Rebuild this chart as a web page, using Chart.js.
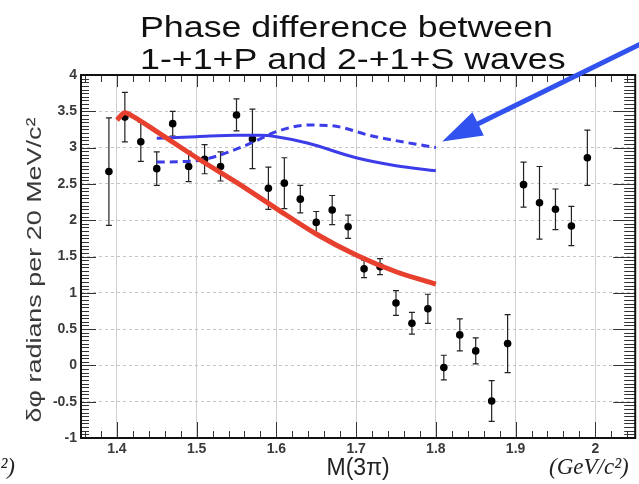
<!DOCTYPE html>
<html>
<head>
<meta charset="utf-8">
<script src="https://cdn.jsdelivr.net/npm/chart.js@4.4.1/dist/chart.umd.min.js"></script>
<style>
  html, body { margin: 0; padding: 0; background: #fff; }
  canvas { display: block; }
</style>
</head>
<body>
<canvas id="c" width="639" height="484"></canvas>
<script>
// Measured phase difference, one point per 20 MeV bin
const mass = [1.39, 1.41, 1.43, 1.45, 1.47, 1.49, 1.51, 1.53, 1.55, 1.57,
              1.59, 1.61, 1.63, 1.65, 1.67, 1.69, 1.71, 1.73, 1.75, 1.77,
              1.79, 1.81, 1.83, 1.85, 1.87, 1.89, 1.91, 1.93, 1.95, 1.97, 1.99];
const phase = [2.67, 3.42, 3.08, 2.71, 3.33, 2.74, 2.84, 2.74, 3.45, 3.12,
               2.44, 2.51, 2.29, 1.97, 2.14, 1.91, 1.33, 1.36, 0.86, 0.58,
               0.78, -0.03, 0.42, 0.20, -0.49, 0.30, 2.49, 2.24, 2.15, 1.92, 2.86];
const phaseErr = [0.74, 0.34, 0.27, 0.23, 0.17, 0.21, 0.20, 0.20, 0.22, 0.41,
                  0.29, 0.35, 0.19, 0.15, 0.20, 0.16, 0.12, 0.11, 0.17, 0.15,
                  0.20, 0.17, 0.22, 0.18, 0.28, 0.40, 0.31, 0.50, 0.28, 0.27, 0.38];

// Model curves
const redMass  = [1.40, 1.41, 1.42, 1.45, 1.50, 1.55, 1.60, 1.65, 1.70, 1.75, 1.80];
const redPhase = [3.38, 3.48, 3.43, 3.22, 2.86, 2.52, 2.16, 1.81, 1.52, 1.29, 1.12];
const blueMass  = [1.45, 1.50, 1.55, 1.58, 1.60, 1.64, 1.70, 1.75, 1.80];
const bluePhase = [3.13, 3.15, 3.17, 3.17, 3.15, 3.06, 2.86, 2.75, 2.68];
const dashMass  = [1.45, 1.50, 1.53, 1.57, 1.60, 1.64, 1.67, 1.72, 1.80];
const dashPhase = [2.80, 2.82, 2.90, 3.07, 3.22, 3.31, 3.30, 3.16, 3.00];

// Axes
const xTickValues = [1.4, 1.5, 1.6, 1.7, 1.8, 1.9, 2.0];
const yTickValues = [-1, -0.5, 0, 0.5, 1, 1.5, 2, 2.5, 3, 3.5, 4];
const xRange = [1.355, 2.05];
const yRange = [-1, 4];

// Text
const titleLines = ['Phase difference between', '1-+1+P and 2-+1+S waves'];
const yTitle = 'δφ radians per 20 MeV/c²';
const xTitle = 'M(3π)';
const unitLabel = '(GeV/c²)';

// Arrow pointing at the end of the curves (data coordinates)
const arrowTip = { x: 1.808, y: 3.085 };
const arrowTail = { x: 2.10, y: 4.66 };

const SANS = '"Liberation Sans", Arial, sans-serif';
const SERIF = '"Liberation Serif", "DejaVu Serif", serif';

const pts = (xs, ys) => xs.map((x, i) => ({ x, y: ys[i] }));
const fmt = v => String(+Number(v).toFixed(2));

const background = {
  id: 'background',
  beforeDraw(chart) {
    const c = chart.ctx;
    c.save();
    c.fillStyle = '#fff';
    c.fillRect(0, 0, chart.width, chart.height);
    c.restore();
  }
};

const errorBars = {
  id: 'errorBars',
  beforeDatasetDraw(chart, args) {
    if (args.index !== 3) return;
    const c = chart.ctx, xs = chart.scales.x, ys = chart.scales.y;
    c.save();
    c.strokeStyle = '#222';
    c.lineWidth = 1.2;
    mass.forEach((m, i) => {
      const px = xs.getPixelForValue(m);
      const top = ys.getPixelForValue(phase[i] + phaseErr[i]);
      const bot = ys.getPixelForValue(phase[i] - phaseErr[i]);
      c.beginPath();
      c.moveTo(px, top); c.lineTo(px, bot);
      c.moveTo(px - 3, top); c.lineTo(px + 3, top);
      c.moveTo(px - 3, bot); c.lineTo(px + 3, bot);
      c.stroke();
    });
    c.restore();
  }
};

const frame = {
  id: 'frame',
  afterDraw(chart) {
    const c = chart.ctx, a = chart.chartArea;
    const xs = chart.scales.x, ys = chart.scales.y;
    c.save();
    c.strokeStyle = '#333';
    c.lineWidth = 1;
    c.beginPath();
    // x ticks every 0.02, longer at each 0.1 (bottom and top edges)
    for (let i = 68; i <= 102; i++) {
      const px = Math.round(xs.getPixelForValue(i * 0.02)) + 0.5;
      const major = i % 5 === 0;
      const lb = major ? 16 : 7, lt = major ? 12 : 7;
      c.moveTo(px, a.bottom); c.lineTo(px, a.bottom - lb);
      c.moveTo(px, a.top); c.lineTo(px, a.top + lt);
    }
    // y ticks every 0.05, longer at each 0.5 (left and right edges)
    for (let i = 0; i <= 100; i++) {
      const py = Math.round(ys.getPixelForValue(-1 + i * 0.05)) + 0.5;
      const major = i % 10 === 0;
      const ll = major ? 15 : 8, lr = major ? 22 : 11;
      c.moveTo(a.left, py); c.lineTo(a.left + ll, py);
      c.moveTo(a.right, py); c.lineTo(a.right - lr, py);
    }
    c.stroke();
    c.strokeStyle = '#111';
    c.lineWidth = 2;
    c.strokeRect(a.left, a.top, a.right - a.left, a.bottom - a.top);
    c.restore();
  }
};

const arrow = {
  id: 'arrow',
  afterDraw(chart) {
    const c = chart.ctx, xs = chart.scales.x, ys = chart.scales.y;
    const tx = xs.getPixelForValue(arrowTip.x), ty = ys.getPixelForValue(arrowTip.y);
    const sx = xs.getPixelForValue(arrowTail.x), sy = ys.getPixelForValue(arrowTail.y);
    const ang = Math.atan2(ty - sy, tx - sx);
    const headLen = 40, headHalf = 13;
    const bx = tx - headLen * Math.cos(ang), by = ty - headLen * Math.sin(ang);
    c.save();
    c.strokeStyle = '#3152ee';
    c.fillStyle = '#3152ee';
    c.lineWidth = 5;
    c.beginPath();
    c.moveTo(sx, sy); c.lineTo(bx + 4 * Math.cos(ang), by + 4 * Math.sin(ang));
    c.stroke();
    c.beginPath();
    c.moveTo(tx, ty);
    c.lineTo(bx + headHalf * Math.sin(ang), by - headHalf * Math.cos(ang));
    c.lineTo(bx - headHalf * Math.sin(ang), by + headHalf * Math.cos(ang));
    c.closePath();
    c.fill();
    c.restore();
  }
};

const texts = {
  id: 'texts',
  afterDraw(chart) {
    const c = chart.ctx;
    c.save();
    c.fillStyle = '#111';
    // two-line title, slightly widened
    c.font = '29px ' + SANS;
    c.textAlign = 'left';
    c.textBaseline = 'alphabetic';
    const stretch = 413 / c.measureText(titleLines[0]).width;
    [37, 69].forEach((base, i) => {
      c.save();
      c.translate(140, base);
      c.scale(stretch, 1);
      c.fillText(titleLines[i], 0, 0);
      c.restore();
    });
    // vertical axis title
    c.fillStyle = '#3a3a3a';
    c.font = '20px ' + SANS;
    c.textAlign = 'center';
    c.textBaseline = 'middle';
    const ys = 305 / c.measureText(yTitle).width;
    c.save();
    c.translate(35, 270);
    c.rotate(-Math.PI / 2);
    c.scale(ys, 1);
    c.fillText(yTitle, 0, 0);
    c.restore();
    // unit labels at the bottom corners
    c.fillStyle = '#222';
    c.font = 'italic 23px ' + SERIF;
    c.textBaseline = 'middle';
    c.textAlign = 'left';
    c.fillText(unitLabel, 549, 468);
    c.textAlign = 'right';
    c.fillText(unitLabel, 15, 468);
    c.restore();
  }
};

new Chart(document.getElementById('c'), {
  type: 'scatter',
  data: {
    datasets: [
      { data: pts(redMass, redPhase), showLine: true, borderColor: '#e8402f', borderWidth: 5,
        pointRadius: 0, cubicInterpolationMode: 'monotone', fill: false },
      { data: pts(blueMass, bluePhase), showLine: true, borderColor: '#3c3ce8', borderWidth: 3,
        pointRadius: 0, cubicInterpolationMode: 'monotone', fill: false },
      { data: pts(dashMass, dashPhase), showLine: true, borderColor: '#3c3ce8', borderWidth: 3,
        borderDash: [8, 5], pointRadius: 0, cubicInterpolationMode: 'monotone', fill: false },
      { data: pts(mass, phase), showLine: false, pointRadius: 3.8, pointHoverRadius: 3.8,
        backgroundColor: '#000', borderColor: '#000', borderWidth: 0 }
    ]
  },
  options: {
    responsive: false,
    animation: false,
    events: [],
    layout: { padding: { top: 75, right: 2, left: 0, bottom: 0 } },
    plugins: { legend: { display: false }, tooltip: { enabled: false } },
    scales: {
      x: {
        type: 'linear', min: xRange[0], max: xRange[1],
        afterBuildTicks: s => { s.ticks = xTickValues.map(v => ({ value: v })); },
        afterFit: s => { s.height = 46; },
        grid: { color: '#cfcfcf', lineWidth: 1, drawTicks: false },
        border: { display: false },
        ticks: { autoSkip: false, maxRotation: 0, padding: 3, color: '#3a3a3a',
                 font: { family: SANS, size: 14, weight: 'bold' }, callback: fmt },
        title: { display: true, text: xTitle, color: '#222',
                 font: { family: SANS, size: 23 }, padding: { top: 0, bottom: 2 } }
      },
      y: {
        type: 'linear', min: yRange[0], max: yRange[1],
        afterBuildTicks: s => { s.ticks = yTickValues.map(v => ({ value: v })); },
        afterFit: s => { s.width = 81; },
        grid: { color: '#c4c4c4', lineWidth: 1, drawTicks: false },
        border: { display: false, dash: [3, 3] },
        ticks: { autoSkip: false, padding: 4, color: '#3a3a3a',
                 font: { family: SANS, size: 14, weight: 'bold' }, callback: fmt }
      }
    }
  },
  plugins: [background, errorBars, frame, arrow, texts]
});
</script>
</body>
</html>
